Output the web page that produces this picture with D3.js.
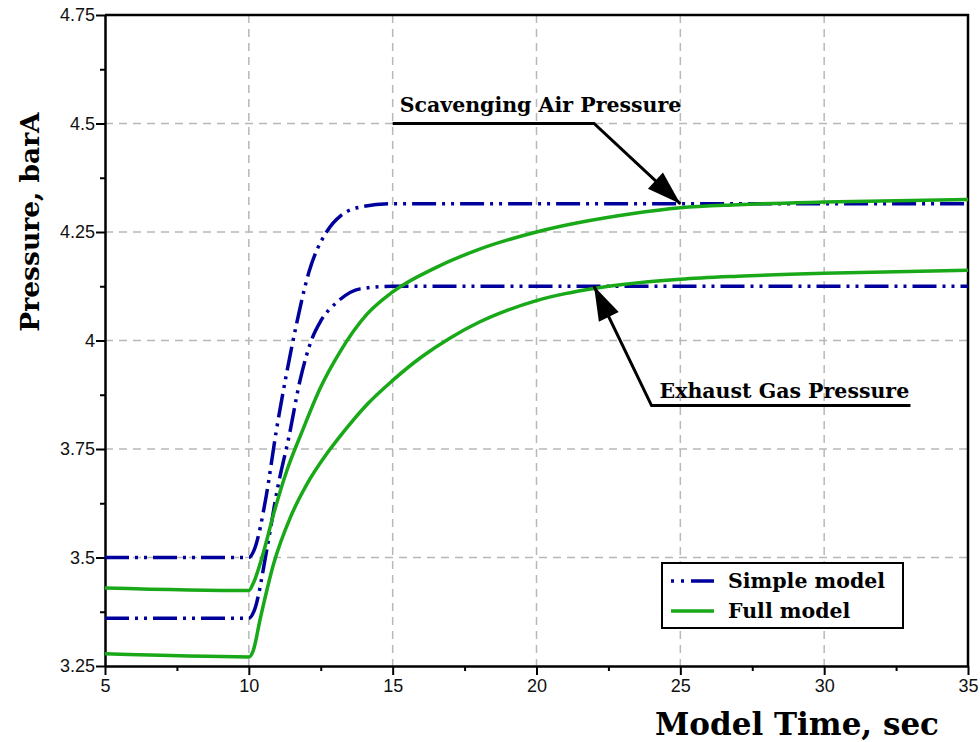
<!DOCTYPE html>
<html>
<head>
<meta charset="utf-8">
<script src="https://cdn.jsdelivr.net/npm/d3@7/dist/d3.min.js"></script>
<style>
  body { margin: 0; background: #fff; }
</style>
</head>
<body>
<div id="chart"></div>
<script>
// values (time in sec, pressure in barA)
const simpleScavTime = [5, 10, 10.2, 10.6, 10.95, 11.3, 11.6, 12.1, 12.7, 13.2, 14.0, 15, 20, 25, 30, 35];
const simpleScavP    = [3.5, 3.5, 3.52, 3.64, 3.79, 3.92, 4.02, 4.16, 4.25, 4.288, 4.309, 4.315, 4.315, 4.315, 4.315, 4.315];

const simpleExhTime = [5, 10, 10.2, 10.63, 11.0, 11.4, 11.77, 12.2, 12.5, 13.06, 13.87, 15, 20, 25, 30, 35];
const simpleExhP    = [3.36, 3.36, 3.38, 3.52, 3.66, 3.78, 3.905, 4.005, 4.045, 4.088, 4.119, 4.125, 4.125, 4.125, 4.125, 4.125];

const fullScavTime = [5, 10, 10.15, 10.5, 10.86, 11.32, 11.85, 12.48, 13.18, 14.1, 15, 16.5, 18, 20, 23.3, 25, 27, 30, 35];
const fullScavP    = [3.43, 3.424, 3.44, 3.51, 3.6, 3.7, 3.79, 3.89, 3.975, 4.06, 4.112, 4.168, 4.21, 4.25, 4.292, 4.306, 4.313, 4.319, 4.325];

const fullExhTime = [5, 10, 10.15, 10.4, 10.86, 11.44, 12.02, 12.72, 13.3, 14.1, 15, 16, 17, 18, 19, 20, 21, 22, 23, 25, 27, 30, 35];
const fullExhP    = [3.278, 3.271, 3.285, 3.36, 3.485, 3.592, 3.669, 3.74, 3.79, 3.852, 3.908, 3.962, 4.006, 4.042, 4.07, 4.092, 4.108, 4.12, 4.129, 4.141, 4.148, 4.155, 4.162];

const xTicks = [5, 10, 15, 20, 25, 30, 35];
const yTicks = [3.25, 3.5, 3.75, 4, 4.25, 4.5, 4.75];
const yTickLabels = ["3.25", "3.5", "3.75", "4", "4.25", "4.5", "4.75"];

// annotation leader lines, in data units
const scavLeaderTime = [15, 22, 25];
const scavLeaderP    = [4.5, 4.5, 4.315];
const exhLeaderTime  = [33, 24, 22];
const exhLeaderP     = [3.85, 3.85, 4.125];

const margin = { top: 15, right: 12, bottom: 76, left: 105 };
const width = 980 - margin.left - margin.right;
const height = 742 - margin.top - margin.bottom;

const blue = "#00009c";
const green = "#18a818";
const dashDot = "24 6 3 6 3 6";
const serif = "'DejaVu Serif', serif";
const sans = "'Liberation Sans', Arial, sans-serif";

const svg = d3.select("#chart")
  .append("svg")
  .attr("width", width + margin.left + margin.right)
  .attr("height", height + margin.top + margin.bottom)
  .append("g")
  .attr("transform", "translate(" + margin.left + "," + margin.top + ")");

const x = d3.scaleLinear().domain([5, 35]).range([0, width]);
const y = d3.scaleLinear().domain([3.25, 4.75]).range([height, 0]);

// grid
svg.selectAll("line.vgrid")
  .data(xTicks.slice(1, -1))
  .enter().append("line")
  .attr("class", "vgrid")
  .attr("x1", d => x(d)).attr("x2", d => x(d))
  .attr("y1", 0).attr("y2", height)
  .style("stroke", "#b8b8b8")
  .style("stroke-width", 1.5)
  .style("stroke-dasharray", "8 6");

svg.selectAll("line.hgrid")
  .data(yTicks.slice(1, -1))
  .enter().append("line")
  .attr("class", "hgrid")
  .attr("x1", 0).attr("x2", width)
  .attr("y1", d => y(d)).attr("y2", d => y(d))
  .style("stroke", "#b8b8b8")
  .style("stroke-width", 1.5)
  .style("stroke-dasharray", "8 6");

// minor ticks
const xMinor = d3.range(7.5, 35, 5);
const yMinor = d3.range(3.375, 4.75, 0.25);

svg.append("g")
  .attr("transform", "translate(0," + height + ")")
  .call(d3.axisBottom(x).tickValues(xMinor).tickSize(5).tickFormat(""))
  .call(g => g.select(".domain").remove())
  .selectAll("line").style("stroke-width", 2);

svg.append("g")
  .call(d3.axisLeft(y).tickValues(yMinor).tickSize(5).tickFormat(""))
  .call(g => g.select(".domain").remove())
  .selectAll("line").style("stroke-width", 2);

// major axes
const xAxis = svg.append("g")
  .attr("transform", "translate(0," + height + ")")
  .call(d3.axisBottom(x).tickValues(xTicks).tickSize(9).tickPadding(4).tickSizeOuter(0));
xAxis.selectAll("text")
  .style("font-family", sans).style("font-size", "18px").style("fill", "#111");

const yAxis = svg.append("g")
  .call(d3.axisLeft(y).tickValues(yTicks).tickSize(9).tickPadding(1).tickSizeOuter(0)
    .tickFormat((d, i) => yTickLabels[i]));
yAxis.selectAll("text")
  .style("font-family", sans).style("font-size", "18px").style("fill", "#111");

[xAxis, yAxis].forEach(a => {
  a.selectAll("line").style("stroke-width", 2);
  a.select(".domain").style("stroke-width", 2.5);
});

// top and right frame
svg.append("path")
  .attr("d", "M0,0H" + width + "V" + height)
  .style("fill", "none")
  .style("stroke", "#000")
  .style("stroke-width", 2.5);

// series
const line = d3.line()
  .x(d => x(d[0]))
  .y(d => y(d[1]))
  .curve(d3.curveMonotoneX);

const series = [
  { t: simpleScavTime, p: simpleScavP, color: blue, dash: dashDot },
  { t: simpleExhTime, p: simpleExhP, color: blue, dash: dashDot },
  { t: fullScavTime, p: fullScavP, color: green, dash: null },
  { t: fullExhTime, p: fullExhP, color: green, dash: null }
];

svg.selectAll(".series")
  .data(series)
  .enter().append("path")
  .attr("class", "series")
  .attr("d", s => line(d3.zip(s.t, s.p)))
  .style("fill", "none")
  .style("stroke", s => s.color)
  .style("stroke-width", 3.5)
  .style("stroke-dasharray", s => s.dash);

// annotations
const leader = d3.line().x(d => x(d[0])).y(d => y(d[1]));

function arrow(times, ps) {
  const pts = d3.zip(times, ps);
  svg.append("path")
    .attr("d", leader(pts))
    .style("fill", "none")
    .style("stroke", "#000")
    .style("stroke-width", 3);
  const a = pts[pts.length - 2], b = pts[pts.length - 1];
  const x0 = x(a[0]), y0 = y(a[1]), x1 = x(b[0]), y1 = y(b[1]);
  const ang = Math.atan2(y1 - y0, x1 - x0);
  const len = 34, half = 11;
  const bx = x1 - len * Math.cos(ang), by = y1 - len * Math.sin(ang);
  const nx = -Math.sin(ang) * half, ny = Math.cos(ang) * half;
  svg.append("path")
    .attr("d", "M" + x1 + "," + y1 + "L" + (bx + nx) + "," + (by + ny) + "L" + (bx - nx) + "," + (by - ny) + "Z")
    .style("fill", "#000");
}
arrow(scavLeaderTime, scavLeaderP);
arrow(exhLeaderTime, exhLeaderP);

svg.append("text")
  .attr("x", x(15) + 7)
  .attr("y", y(4.5) - 12)
  .style("font-family", serif)
  .style("font-weight", "bold")
  .style("font-size", "20.5px")
  .text("Scavenging Air Pressure");

svg.append("text")
  .attr("x", x(24) + 8)
  .attr("y", y(3.85) - 8)
  .style("font-family", serif)
  .style("font-weight", "bold")
  .style("font-size", "20.5px")
  .text("Exhaust Gas Pressure");

// legend
const legend = svg.append("g")
  .attr("transform", "translate(" + (662 - margin.left) + "," + (563 - margin.top) + ")");
legend.append("rect")
  .attr("width", 241).attr("height", 65)
  .style("fill", "#fff")
  .style("stroke", "#000")
  .style("stroke-width", 2);

const legendItems = [
  { name: "Simple model", color: blue, dash: "3 7 3 7 24 0" },
  { name: "Full model", color: green, dash: null }
];
legendItems.forEach((d, i) => {
  const ly = 18 + i * 30;
  legend.append("line")
    .attr("x1", 9).attr("x2", 52)
    .attr("y1", ly).attr("y2", ly)
    .style("stroke", d.color)
    .style("stroke-width", 3.5)
    .style("stroke-dasharray", d.dash);
  legend.append("text")
    .attr("x", 66).attr("y", ly + 7)
    .style("font-family", serif)
    .style("font-weight", "bold")
    .style("font-size", "20.5px")
    .text(d.name);
});

// axis titles
svg.append("text")
  .attr("transform", "translate(" + (width - 29) + "," + (height + 69) + ")")
  .style("text-anchor", "end")
  .style("font-family", serif)
  .style("font-weight", "bold")
  .style("font-size", "31px")
  .text("Model Time, sec");

svg.append("text")
  .attr("transform", "translate(" + (-margin.left + 39) + "," + (222 - margin.top) + ") rotate(-90)")
  .style("text-anchor", "middle")
  .style("font-family", serif)
  .style("font-weight", "bold")
  .style("font-size", "26.5px")
  .text("Pressure, barA");
</script>
</body>
</html>
